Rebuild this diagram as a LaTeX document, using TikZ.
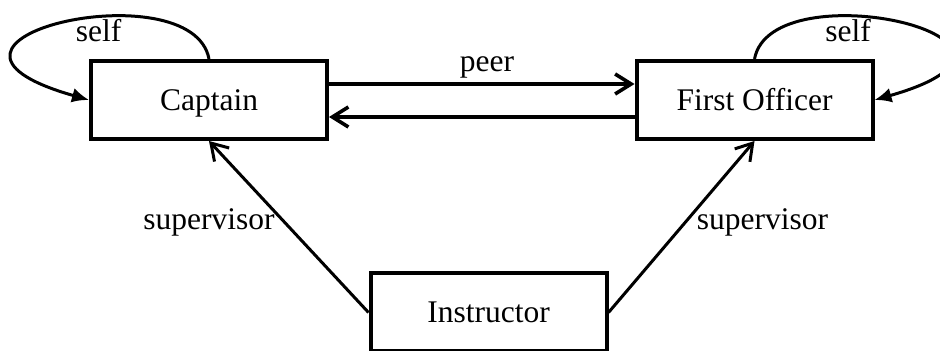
\documentclass[tikz,border=0pt]{standalone}
\usepackage{fontspec}
\setmainfont{Liberation Serif}
\usetikzlibrary{arrows.meta}
\begin{document}
\begin{tikzpicture}[x=0.5pt, y=-0.5pt,
  every node/.style={font=\fontsize{15.75pt}{18pt}\selectfont, inner sep=0pt},
  box/.style={draw, line width=2pt, minimum width=118pt, minimum height=39pt,
    text height=10.4pt, text depth=0pt},
  lbl/.style={anchor=base},
  peerline/.style={line width=1.8pt, -{Straight Barb[length=8pt, width=10pt]}},
  suplink/.style={line width=1.5pt, -{Straight Barb[length=8pt, width=10pt]}},
  selfloop/.style={line width=1.5pt, -{Latex[length=8.5pt, width=7.5pt]}}]
  \useasboundingbox (0,0) rectangle (940,351);

  % roles
  \node[box] (cap) at (209,100) {Captain};
  \node[box] (fo) at (754.5,100) {First Officer};
  \node[box] (ins) at (488.5,312.5) {Instructor};

  % peer links between the two pilots
  \draw[peerline] ([yshift=8pt]cap.east) -- ([yshift=8pt]fo.west);
  \draw[peerline] ([yshift=-8.5pt]fo.west) -- ([yshift=-8.5pt]cap.east);
  \node[lbl] (peerlbl) at (487,72) {peer};

  % self assessment loops
  \draw[selfloop] (cap.north) .. controls (192,-32) and (-122,40) .. (cap.west);
  \draw[selfloop] (fo.north) .. controls (771.5,-32) and (1085.5,40) .. (fo.east);
  \node[lbl] (selfcap) at (98.5,42) {self};
  \node[lbl] (selffo) at (848,42) {self};

  % supervision by the instructor
  \draw[suplink] (ins.west) -- (cap.south);
  \draw[suplink] (ins.east) -- (fo.south);
  \node[lbl] (supcap) at (209,230) {supervisor};
  \node[lbl] (supfo) at (762.5,230) {supervisor};
\end{tikzpicture}
\end{document}
